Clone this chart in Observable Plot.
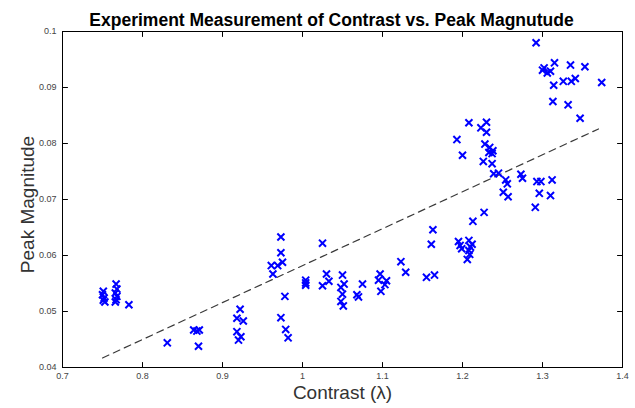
<!DOCTYPE html>
<html>
<head>
<meta charset="utf-8">
<script src="https://cdn.jsdelivr.net/npm/d3@7"></script>
<script src="https://cdn.jsdelivr.net/npm/@observablehq/plot@0.6"></script>
<style>
  html, body { margin: 0; padding: 0; background: #fff; }
  svg { display: block; }
</style>
</head>
<body>
<div id="chart"></div>
<script>
const titleText = "Experiment Measurement of Contrast vs. Peak Magnutude";
const xLabel = "Contrast (\u03BB)";
const yLabel = "Peak Magnitude";
const xTicks = [0.7, 0.8, 0.9, 1.0, 1.1, 1.2, 1.3, 1.4];
const yTicks = [0.04, 0.05, 0.06, 0.07, 0.08, 0.09, 0.1];

const contrast = [
  0.751, 0.750, 0.752, 0.751, 0.753,
  0.767, 0.768, 0.766, 0.768, 0.767, 0.766,
  0.783,
  0.831,
  0.864, 0.871, 0.868, 0.870,
  0.922, 0.918, 0.926, 0.918, 0.923, 0.920,
  0.973, 0.973, 0.975, 0.969, 0.961, 0.963, 0.978, 0.973, 0.979, 0.982,
  1.004, 1.004, 1.004,
  1.025, 1.025, 1.030, 1.033,
  1.050, 1.052, 1.048, 1.050, 1.048, 1.051,
  1.075, 1.068, 1.070,
  1.097, 1.095, 1.105, 1.103, 1.098,
  1.123, 1.129,
  1.155, 1.165,
  1.161, 1.163,
  1.195, 1.197, 1.199, 1.208, 1.212, 1.210, 1.208, 1.209, 1.206,
  1.213, 1.227,
  1.208, 1.230, 1.223, 1.230, 1.193, 1.228, 1.234, 1.238, 1.237, 1.233,
  1.226, 1.200, 1.237, 1.239, 1.245, 1.254, 1.256, 1.251, 1.257,
  1.273, 1.275,
  1.293, 1.298, 1.312, 1.296, 1.310, 1.291,
  1.292, 1.302, 1.300, 1.306, 1.310, 1.315, 1.335, 1.353,
  1.314, 1.326, 1.336, 1.341, 1.374, 1.313, 1.332, 1.347
];
const peak = [
  0.0536, 0.0530, 0.0524, 0.0520, 0.0517,
  0.0549, 0.0540, 0.0533, 0.0527, 0.0521, 0.0517,
  0.0512,
  0.0444,
  0.0467, 0.0467, 0.0465, 0.0438,
  0.0504, 0.0488, 0.0483, 0.0464, 0.0455, 0.0449,
  0.0633, 0.0605, 0.0588, 0.0582, 0.0582, 0.0567, 0.0527, 0.0489, 0.0468, 0.0453,
  0.0556, 0.0551, 0.0547,
  0.0622, 0.0546, 0.0567, 0.0554,
  0.0565, 0.0549, 0.0543, 0.0531, 0.0518, 0.0510,
  0.0549, 0.0530, 0.0526,
  0.0567, 0.0556, 0.0555, 0.0548, 0.0536,
  0.0589, 0.0570,
  0.0561, 0.0565,
  0.0620, 0.0646,
  0.0625, 0.0618, 0.0612, 0.0627, 0.0620, 0.0615, 0.0609, 0.0602, 0.0593,
  0.0661, 0.0677,
  0.0837, 0.0838, 0.0828, 0.0820, 0.0807, 0.0799, 0.0793, 0.0787, 0.0782, 0.0784,
  0.0768, 0.0779, 0.0764, 0.0746, 0.0747, 0.0735, 0.0728, 0.0713, 0.0705,
  0.0745, 0.0738,
  0.0732, 0.0732, 0.0735, 0.0711, 0.0707, 0.0686,
  0.0980, 0.0935, 0.0931, 0.0926, 0.0929, 0.0944, 0.0940, 0.0937,
  0.0904, 0.0911, 0.0911, 0.0916, 0.0909, 0.0875, 0.0869, 0.0845
];

// Dashed linear fit line endpoints
const fitX = [0.75, 1.37];
const fitY = [0.0417, 0.0826];

const points = contrast.map((x, i) => ({x, y: peak[i]}));
const fit = fitX.map((x, i) => ({x, y: fitY[i]}));

const tickShape = {draw(context, l) { context.moveTo(0, 0); context.lineTo(0, -l); }};
const fmtX = d => d3.format("")(+d.toFixed(1));
const fmtY = d => d3.format("")(+d.toFixed(2));

const chart = Plot.plot({
  width: 635,
  height: 408,
  marginLeft: 62,
  marginRight: 13,
  marginTop: 31,
  marginBottom: 41,
  style: {fontFamily: "'Liberation Sans', Arial, Helvetica, sans-serif", background: "#fff", color: "#000"},
  x: {domain: [0.7, 1.4]},
  y: {domain: [0.04, 0.1]},
  marks: [
    Plot.line(fit, {x: "x", y: "y", stroke: "#3a3a3a", strokeWidth: 1.2, strokeDasharray: "7,5"}),
    Plot.dot(points, {x: "x", y: "y", symbol: "times", r: 3.3, stroke: "#0000ff", strokeWidth: 2}),
    Plot.frame({stroke: "#000", strokeWidth: 1}),
    // inward ticks on all four sides
    Plot.vector(xTicks, {x: d => d, frameAnchor: "bottom", rotate: 0, length: 5, anchor: "start", shape: tickShape, stroke: "#000", strokeWidth: 1}),
    Plot.vector(xTicks, {x: d => d, frameAnchor: "top", rotate: 180, length: 5, anchor: "start", shape: tickShape, stroke: "#000", strokeWidth: 1}),
    Plot.vector(yTicks, {y: d => d, frameAnchor: "left", rotate: 90, length: 5, anchor: "start", shape: tickShape, stroke: "#000", strokeWidth: 1}),
    Plot.vector(yTicks, {y: d => d, frameAnchor: "right", rotate: -90, length: 5, anchor: "start", shape: tickShape, stroke: "#000", strokeWidth: 1}),
    Plot.axisX({ticks: xTicks, tickSize: 0, tickPadding: 5, tickFormat: fmtX, fontSize: 9, fill: "#444", label: null}),
    Plot.axisY({ticks: yTicks, tickSize: 0, tickPadding: 6, tickFormat: fmtY, fontSize: 9, fill: "#444", label: null}),
    Plot.text([titleText], {frameAnchor: "top", dy: -18, dx: -11, fontSize: 17.5, fontWeight: "bold", fill: "#000", text: d => d}),
    Plot.text([xLabel], {frameAnchor: "bottom", dy: 31, fontSize: 19, fill: "#333", text: d => d}),
    Plot.text([yLabel], {frameAnchor: "left", textAnchor: "middle", dx: -35, dy: 5, rotate: -90, fontSize: 19, fill: "#333", text: d => d})
  ]
});
document.getElementById("chart").appendChild(chart);
</script>
</body>
</html>
